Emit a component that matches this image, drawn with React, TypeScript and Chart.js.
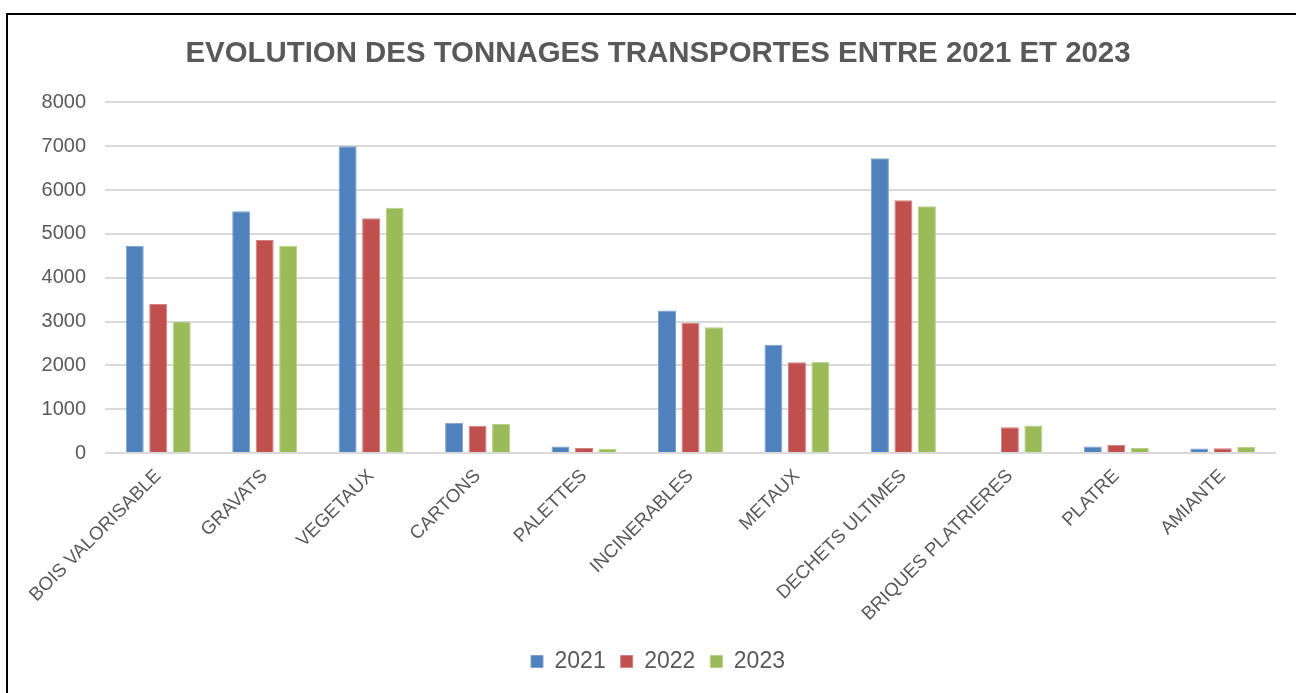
import React, { useEffect, useRef } from "react";
import { Chart, registerables } from "chart.js";

Chart.register(...registerables);

const categories = [
  "BOIS VALORISABLE",
  "GRAVATS",
  "VEGETAUX",
  "CARTONS",
  "PALETTES",
  "INCINERABLES",
  "METAUX",
  "DECHETS ULTIMES",
  "BRIQUES PLATRIERES",
  "PLATRE",
  "AMIANTE",
];
const values2021 = [4730, 5520, 7000, 690, 150, 3250, 2470, 6730, null, 150, 105];
const values2022 = [3400, 4860, 5360, 620, 115, 2970, 2070, 5770, 590, 180, 110];
const values2023 = [3000, 4730, 5600, 660, 90, 2870, 2080, 5630, 630, 115, 135];
const yTicks = [0, 1000, 2000, 3000, 4000, 5000, 6000, 7000, 8000];
const seriesLabels = ["2021", "2022", "2023"];
const seriesColors = ["#4F81BD", "#C0504D", "#9BBB59"];
const seriesBorders = ["#7EA1CF", "#D27F7D", "#B7CF88"];

const FONT = "'Liberation Sans', Arial, sans-serif";
const TEXT = "#595959";

export default function App() {
  const ref = useRef<HTMLCanvasElement | null>(null);

  useEffect(() => {
    document.body.style.overflow = "hidden";
    const ctx = ref.current!;
    const data = [values2021, values2022, values2023];
    const chart = new Chart(ctx, {
      type: "bar",
      data: {
        labels: categories,
        datasets: seriesLabels.map((l, i) => ({
          label: l,
          data: data[i],
          backgroundColor: seriesColors[i],
          borderColor: seriesBorders[i],
          borderWidth: 1,
          categoryPercentage: 0.662,
          barPercentage: 0.766,
        })),
      },
      options: {
        animation: false,
        responsive: false,
        maintainAspectRatio: false,
        layout: { padding: { left: 40, right: 40, top: 0, bottom: 10 } },
        plugins: {
          title: {
            display: true,
            text: "EVOLUTION DES TONNAGES TRANSPORTES ENTRE 2021 ET 2023",
            color: TEXT,
            font: { family: FONT, size: 29.4, weight: "bold" },
            padding: { top: 36, bottom: 31.2 },
          },
          legend: {
            position: "bottom",
            labels: {
              color: TEXT,
              font: { family: FONT, size: 23 },
              boxWidth: 12,
              boxHeight: 12,
              padding: 15,
              useBorderRadius: false,
            },
          },
          tooltip: { enabled: false },
        },
        scales: {
          x: {
            grid: { display: false },
            border: { display: false },
            ticks: {
              color: TEXT,
              font: { family: FONT, size: 18.7 },
              minRotation: 45,
              maxRotation: 45,
              autoSkip: false,
              padding: 4,
            },
            afterFit: (s: any) => {
              s.height = 182;
            },
          },
          y: {
            min: 0,
            max: 8000,
            afterBuildTicks: (s: any) => {
              s.ticks = yTicks.map((v) => ({ value: v }));
            },
            grid: { color: "#D9D9D9", lineWidth: 2, drawTicks: false },
            border: { display: false },
            ticks: {
              color: TEXT,
              font: { family: FONT, size: 20 },
              padding: 19,
              callback: (v: any) => String(v),
            },
            afterFit: (s: any) => {
              s.width = 65;
            },
          },
        },
      },
    });
    return () => chart.destroy();
  }, []);

  return (
    <>
      <div
        style={{
          position: "fixed",
          left: 6,
          top: 13,
          width: 1320,
          height: 700,
          border: "2px solid #000",
          boxSizing: "border-box",
        }}
      />
      <canvas
        ref={ref}
        width={1316}
        height={693}
        style={{ position: "fixed", left: 0, top: 0, width: 1316, height: 693 }}
      />
    </>
  );
}
